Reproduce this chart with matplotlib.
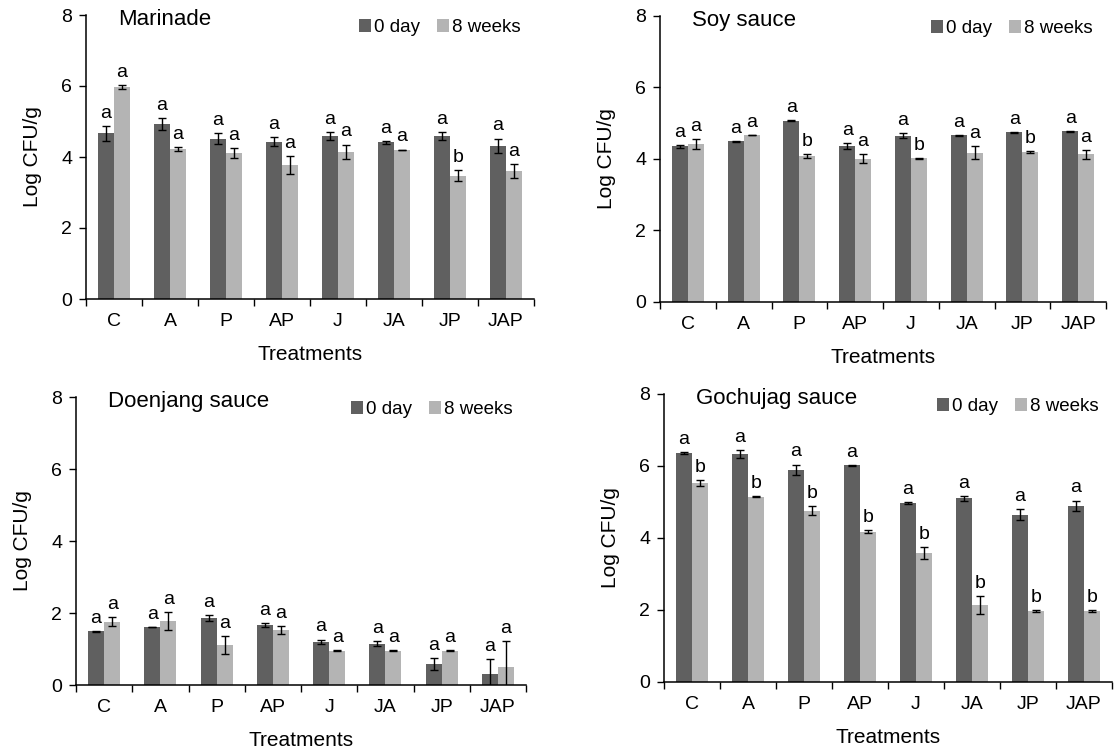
import matplotlib
matplotlib.use("Agg")
import matplotlib.pyplot as plt
import numpy as np

plt.rcParams['font.family'] = ['Liberation Sans', 'DejaVu Sans']

treatments = ['C', 'A', 'P', 'AP', 'J', 'JA', 'JP', 'JAP']

# Marinade
mar_0d = [4.67, 4.92, 4.52, 4.43, 4.59, 4.41, 4.59, 4.31]
mar_0d_err = [0.21, 0.17, 0.15, 0.12, 0.12, 0.05, 0.11, 0.21]
mar_8w = [5.97, 4.22, 4.11, 3.78, 4.14, 4.20, 3.47, 3.61]
mar_8w_err = [0.05, 0.05, 0.14, 0.25, 0.21, 0.01, 0.16, 0.20]
mar_let_0d = ['a'] * 8
mar_let_8w = ['a', 'a', 'a', 'a', 'a', 'a', 'b', 'a']

# Soy sauce
soy_0d = [4.35, 4.49, 5.07, 4.36, 4.65, 4.66, 4.75, 4.77]
soy_0d_err = [0.05, 0.02, 0.01, 0.09, 0.07, 0.01, 0.01, 0.01]
soy_8w = [4.42, 4.67, 4.08, 4.01, 4.02, 4.17, 4.19, 4.13]
soy_8w_err = [0.13, 0.01, 0.05, 0.13, 0.01, 0.18, 0.02, 0.12]
soy_let_0d = ['a'] * 8
soy_let_8w = ['a', 'a', 'b', 'a', 'b', 'a', 'b', 'a']

# Doenjang sauce
doe_0d = [1.49, 1.61, 1.86, 1.67, 1.20, 1.15, 0.58, 0.30]
doe_0d_err = [0.01, 0.01, 0.08, 0.06, 0.06, 0.07, 0.17, 0.43]
doe_8w = [1.76, 1.77, 1.12, 1.53, 0.95, 0.95, 0.95, 0.50]
doe_8w_err = [0.12, 0.25, 0.25, 0.10, 0.01, 0.01, 0.01, 0.72]
doe_let_0d = ['a'] * 8
doe_let_8w = ['a'] * 8

# Gochujag sauce
goc_0d = [6.36, 6.33, 5.89, 6.02, 4.97, 5.10, 4.65, 4.90]
goc_0d_err = [0.02, 0.11, 0.15, 0.01, 0.02, 0.06, 0.16, 0.14]
goc_8w = [5.52, 5.15, 4.76, 4.18, 3.59, 2.13, 1.97, 1.97]
goc_8w_err = [0.08, 0.01, 0.12, 0.04, 0.16, 0.25, 0.03, 0.03]
goc_let_0d = ['a'] * 8
goc_let_8w = ['b'] * 8

DARK = '#606060'
LIGHT = '#b4b4b4'
W, H = 1115, 749


def px_axes(fig, left, top, right, bottom):
    return fig.add_axes([left / W, 1 - bottom / H, (right - left) / W, (bottom - top) / H])


def plot_panel(ax, title, v0, e0, v8, e8, l0, l8):
    x = np.arange(len(treatments)) + 0.5
    bw = 0.285
    ax.bar(x - bw / 2, v0, bw, color=DARK, label='0 day', zorder=2)
    ax.bar(x + bw / 2, v8, bw, color=LIGHT, label='8 weeks', zorder=2)
    ax.errorbar(x - bw / 2, v0, yerr=e0, fmt='none', ecolor='black',
                elinewidth=1, capsize=3, capthick=1, zorder=3)
    ax.errorbar(x + bw / 2, v8, yerr=e8, fmt='none', ecolor='black',
                elinewidth=1, capsize=3, capthick=1, zorder=3)
    for xi, v, e, t in zip(x - bw / 2, v0, e0, l0):
        ax.annotate(t, (xi, v + e), xytext=(0, 3), textcoords='offset points',
                    ha='center', va='bottom', fontsize=14)
    for xi, v, e, t in zip(x + bw / 2, v8, e8, l8):
        ax.annotate(t, (xi, v + e), xytext=(0, 3), textcoords='offset points',
                    ha='center', va='bottom', fontsize=14)

    ax.set_xlim(0, 8)
    ax.set_ylim(0, 8)
    ax.set_yticks([0, 2, 4, 6, 8])
    ax.set_xticks(np.arange(9))
    ax.set_xticklabels([])
    ax.set_xticks(x, minor=True)
    ax.set_xticklabels(treatments, minor=True)
    ax.tick_params(axis='x', which='minor', length=0, pad=10, labelsize=14)
    ax.tick_params(axis='x', which='major', direction='out', length=5, width=1)
    ax.tick_params(axis='y', direction='out', length=5, width=1, labelsize=14, pad=5)
    for s in ['top', 'right']:
        ax.spines[s].set_visible(False)
    for s in ['left', 'bottom']:
        ax.spines[s].set_linewidth(1.1)

    ax.set_xlabel('Treatments', fontsize=15, labelpad=11)
    ax.set_ylabel('Log CFU/g', fontsize=15, labelpad=14)
    ax.text(0.57, 7.87, title, fontsize=16, ha='left', va='center')
    ax.legend(loc='upper right', bbox_to_anchor=(0.99, 1.02), ncol=2, frameon=False,
              fontsize=13.5, handlelength=0.65, handleheight=0.75,
              handletextpad=0.15, columnspacing=0.9, borderaxespad=0.1)


fig = plt.figure(figsize=(W / 100, H / 100), dpi=100)

ax1 = px_axes(fig, 86, 15, 534, 299)
plot_panel(ax1, 'Marinade', mar_0d, mar_0d_err, mar_8w, mar_8w_err, mar_let_0d, mar_let_8w)

ax2 = px_axes(fig, 660, 16, 1106, 302)
plot_panel(ax2, 'Soy sauce', soy_0d, soy_0d_err, soy_8w, soy_8w_err, soy_let_0d, soy_let_8w)

ax3 = px_axes(fig, 76, 397, 526, 685)
plot_panel(ax3, 'Doenjang sauce', doe_0d, doe_0d_err, doe_8w, doe_8w_err, doe_let_0d, doe_let_8w)

ax4 = px_axes(fig, 664, 394, 1112, 682)
plot_panel(ax4, 'Gochujag sauce', goc_0d, goc_0d_err, goc_8w, goc_8w_err, goc_let_0d, goc_let_8w)

fig.savefig('out.png', dpi=100)
